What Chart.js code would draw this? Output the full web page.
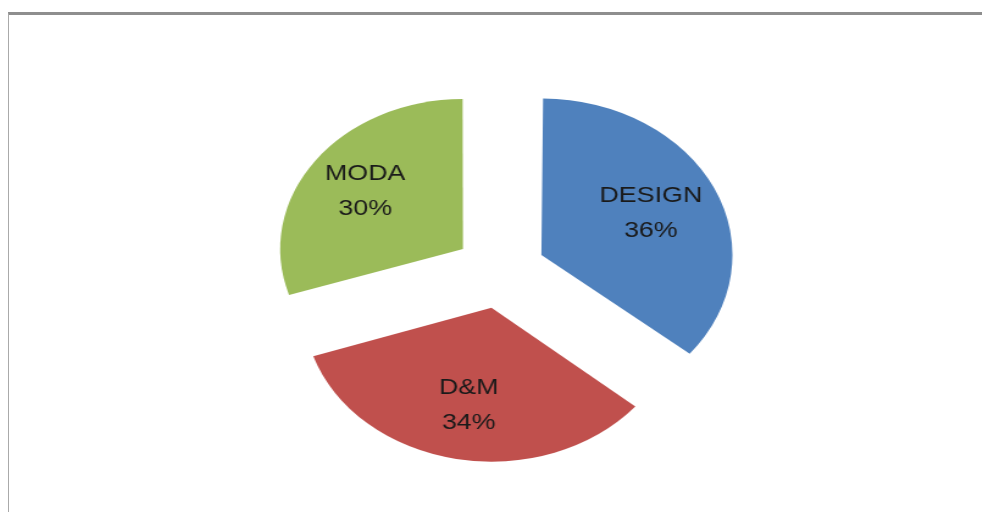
<!DOCTYPE html>
<html>
<head>
<meta charset="utf-8">
<script src="https://cdn.jsdelivr.net/npm/chart.js@4.4.1/dist/chart.umd.min.js"></script>
<style>
  html, body { margin: 0; padding: 0; background: #fff; }
  body { width: 982px; height: 512px; position: relative; overflow: hidden; }
  #frame {
    position: absolute; left: 8px; top: 12px; right: 0; bottom: -2px;
    border-top: 3px solid #8e8e8e; border-left: 1px solid #aaaaaa;
  }
  #wrap {
    position: absolute; left: 256px; top: 0;
    width: 400px; height: 512px;
    transform: scaleX(1.22); transform-origin: 0 0;
  }
</style>
</head>
<body>
<div id="frame"></div>
<div id="wrap"><canvas id="grafica" width="400" height="512"></canvas></div>
<script>
// Datos del gráfico
const categorias = ['DESIGN', 'D&M', 'MODA'];
const valores = [36, 34, 30];
const colores = ['#4F81BD', '#C0504D', '#9BBB59'];

const total = valores.reduce((a, b) => a + b, 0);

// Etiquetas dentro de cada porción (nombre + porcentaje)
const etiquetas = {
    id: 'etiquetas',
    afterDatasetsDraw(chart) {
        const ctx = chart.ctx;
        const meta = chart.getDatasetMeta(0);
        meta.data.forEach((arc, i) => {
            const mid = (arc.startAngle + arc.endAngle) / 2;
            const off = (arc.options.offset || 0) / 4;
            const r = off + arc.outerRadius * 0.67;
            const x = arc.x + Math.cos(mid) * r;
            const y = arc.y + Math.sin(mid) * r;
            ctx.save();
            ctx.fillStyle = '#1a1a1a';
            ctx.font = '22px "Liberation Sans", Arial, sans-serif';
            ctx.textAlign = 'center';
            ctx.textBaseline = 'middle';
            ctx.fillText(categorias[i], x, y - 17);
            ctx.fillText(Math.round(valores[i] / total * 100) + '%', x, y + 18);
            ctx.restore();
        });
    }
};

const ctx = document.getElementById('grafica').getContext('2d');
new Chart(ctx, {
    type: 'pie',
    data: {
        labels: categorias,
        datasets: [{
            data: valores,
            backgroundColor: colores,
            borderWidth: 0,
            offset: 150
        }]
    },
    options: {
        responsive: false,
        animation: false,
        radius: 148,
        layout: { padding: { top: 30, bottom: 0 } },
        plugins: {
            legend: { display: false },
            tooltip: { enabled: false }
        }
    },
    plugins: [etiquetas]
});
</script>
</body>
</html>
